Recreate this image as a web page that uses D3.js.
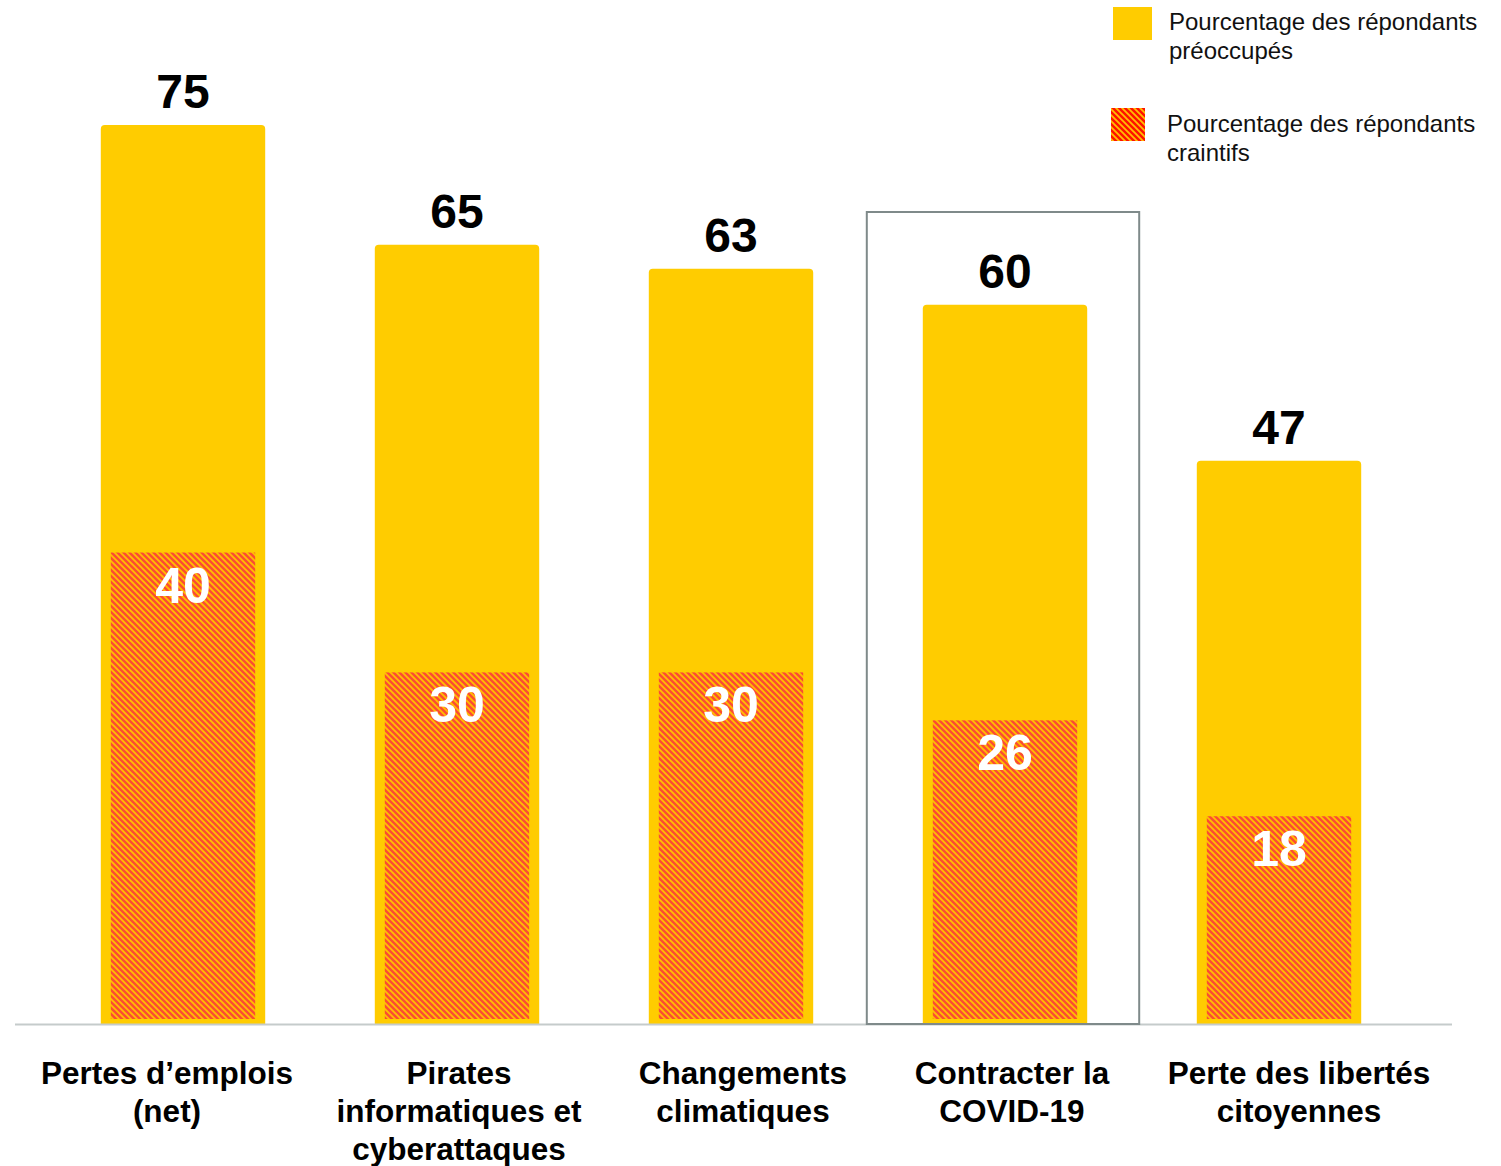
<!DOCTYPE html>
<html>
<head>
<meta charset="utf-8">
<script src="https://cdn.jsdelivr.net/npm/d3@7"></script>
<style>
  body { margin: 0; background: #fff; }
  svg { font-family: "Liberation Sans", Arial, Helvetica, sans-serif; }
</style>
</head>
<body>
<svg width="1501" height="1166"></svg>
<script>
// data
var categories = ["Pertes d’emplois (net)", "Pirates informatiques et cyberattaques",
  "Changements climatiques", "Contracter la COVID-19", "Perte des libertés citoyennes"];
var labelLines = [
  ["Pertes d’emplois", "(net)"],
  ["Pirates", "informatiques et", "cyberattaques"],
  ["Changements", "climatiques"],
  ["Contracter la", "COVID-19"],
  ["Perte des libertés", "citoyennes"]
];
var concerned = [75, 65, 63, 60, 47];
var fearful = [40, 30, 30, 26, 18];
var highlighted = "Contracter la COVID-19";
var legendLabels = [["Pourcentage des répondants", "préoccupés"], ["Pourcentage des répondants", "craintifs"]];

// the category labels are not quite centred under their bars in the original
var labelShift = {"Pertes d’emplois (net)": -16, "Pirates informatiques et cyberattaques": 2,
  "Changements climatiques": 12, "Contracter la COVID-19": 7, "Perte des libertés citoyennes": 20};

var svg = d3.select("svg"),
    baseline = 1024;

var x = d3.scaleBand().domain(categories).range([46, 1416]).paddingInner(0.4).paddingOuter(0.2),
    y = d3.scaleLinear().domain([0, 75]).range([baseline, 125]);

var yellow = "#ffcc00";

// hatch patterns for the "craintifs" bars
var defs = svg.append("defs");
function hatch(id, bg) {
  var p = defs.append("pattern")
      .attr("id", id)
      .attr("patternUnits", "userSpaceOnUse")
      .attr("width", 6).attr("height", 6);
  p.append("rect").attr("width", 6).attr("height", 6).attr("fill", bg);
  p.append("path")
      .attr("d", "M-1,-1 L7,7 M-1,5 L1,7 M5,-1 L7,1")
      .attr("stroke", "#ffc000")
      .attr("stroke-width", 1.8);
}
hatch("hatch", "#fb4c32");
hatch("hatchLegend", "#ff1200");

var data = categories.map(function(c, i) {
  return {cat: c, lines: labelLines[i], a: concerned[i], b: fearful[i]};
});

// yellow bars with rounded tops
function topRounded(x0, y0, w, h, r) {
  return "M" + x0 + "," + (y0 + h) +
    "V" + (y0 + r) + "Q" + x0 + "," + y0 + " " + (x0 + r) + "," + y0 +
    "H" + (x0 + w - r) + "Q" + (x0 + w) + "," + y0 + " " + (x0 + w) + "," + (y0 + r) +
    "V" + (y0 + h) + "Z";
}

svg.selectAll(".bar")
  .data(data)
  .enter().append("path")
    .attr("class", "bar")
    .attr("fill", yellow)
    .attr("d", function(d) { return topRounded(x(d.cat), y(d.a), x.bandwidth(), baseline - y(d.a), 4); });

// hatched inner bars
svg.selectAll(".hatchbar")
  .data(data)
  .enter().append("rect")
    .attr("class", "hatchbar")
    .attr("x", function(d) { return x(d.cat) + 10; })
    .attr("y", function(d) { return y(d.b) + 8; })
    .attr("width", x.bandwidth() - 20)
    .attr("height", function(d) { return baseline - 5 - (y(d.b) + 8); })
    .attr("fill", "url(#hatch)");

// axis line
svg.append("line")
    .attr("x1", 15).attr("x2", 1452)
    .attr("y1", baseline + 0.5).attr("y2", baseline + 0.5)
    .attr("stroke", "#c5cbcb").attr("stroke-width", 2);

// highlight box
svg.append("rect")
    .attr("x", x(highlighted) - 56)
    .attr("y", 212)
    .attr("width", x.bandwidth() + 108)
    .attr("height", baseline - 212)
    .attr("fill", "none")
    .attr("stroke", "#7f8a8a")
    .attr("stroke-width", 2);

// value labels
svg.selectAll(".lblA")
  .data(data)
  .enter().append("text")
    .attr("x", function(d) { return x(d.cat) + x.bandwidth() / 2; })
    .attr("y", function(d) { return y(d.a) - 17; })
    .attr("text-anchor", "middle")
    .style("font-weight", "bold")
    .style("font-size", "48px")
    .attr("fill", "#000")
    .text(function(d) { return d.a; });

svg.selectAll(".lblB")
  .data(data)
  .enter().append("text")
    .attr("x", function(d) { return x(d.cat) + x.bandwidth() / 2; })
    .attr("y", function(d) { return y(d.b) + 8 + 50; })
    .attr("text-anchor", "middle")
    .style("font-weight", "bold")
    .style("font-size", "50px")
    .attr("fill", "#fff")
    .text(function(d) { return d.b; });

// category labels
var cl = svg.selectAll(".cat")
  .data(data)
  .enter().append("text")
    .attr("class", "cat")
    .attr("text-anchor", "middle")
    .style("font-weight", "bold")
    .style("font-size", "31.5px")
    .attr("fill", "#000");
cl.selectAll("tspan")
  .data(function(d) {
    var cx = x(d.cat) + x.bandwidth() / 2 + labelShift[d.cat];
    return d.lines.map(function(l) { return {l: l, cx: cx}; });
  })
  .enter().append("tspan")
    .attr("x", function(d) { return d.cx; })
    .attr("y", function(d, i) { return 1084 + i * 38; })
    .text(function(d) { return d.l; });

// legend
var leg = svg.append("g");
leg.append("rect").attr("x", 1113).attr("y", 7).attr("width", 39).attr("height", 33).attr("fill", yellow);
leg.append("rect").attr("x", 1111).attr("y", 108).attr("width", 34).attr("height", 33).attr("fill", "url(#hatchLegend)");
[[1169, 30], [1167, 132]].forEach(function(p, i) {
  var t = leg.append("text").style("font-size", "24px").attr("fill", "#111");
  legendLabels[i].forEach(function(line, j) {
    t.append("tspan").attr("x", p[0]).attr("y", p[1] + j * 29).text(line);
  });
});
</script>
</body>
</html>
